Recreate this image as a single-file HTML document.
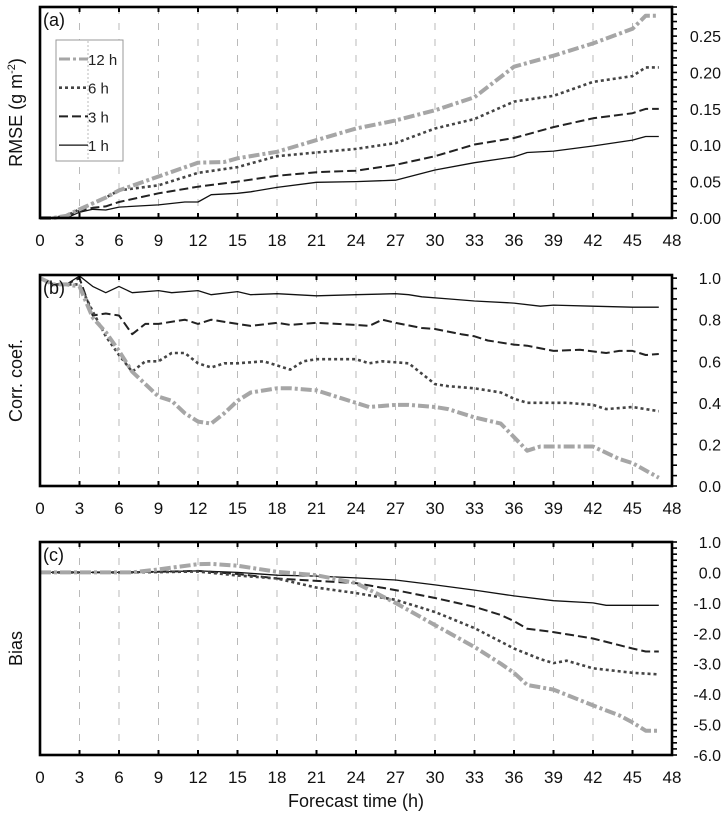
<!DOCTYPE html>
<html><head><meta charset="utf-8"><style>
html,body{margin:0;padding:0;background:#fff;}
svg{display:block;font-family:"Liberation Sans",Arial,sans-serif;}
</style></head><body>
<svg id="chart" width="728" height="816" viewBox="0 0 728 816" xmlns="http://www.w3.org/2000/svg"></svg>
<script>
// ---- data ----
const seriesNames = ["1 h","3 h","6 h","12 h"];
const xTicks = [0,3,6,9,12,15,18,21,24,27,30,33,36,39,42,45,48];

const rmseH1  = [0,1,2,3,4,5,6,9,11,12,13,15,16,18,21,24,27,30,33,36,37,39,42,45,46,47];
const rmse1   = [0,0,0,0.008,0.012,0.011,0.015,0.018,0.022,0.022,0.032,0.034,0.036,0.042,0.049,0.05,0.052,0.066,0.076,0.084,0.09,0.092,0.099,0.107,0.112,0.112];
const rmseH3  = [0,1,2,3,4,5,6,9,12,15,18,21,24,27,30,33,36,39,42,45,46,47];
const rmse3   = [0,0,0.002,0.01,0.014,0.016,0.022,0.034,0.043,0.05,0.058,0.063,0.065,0.073,0.085,0.101,0.11,0.125,0.137,0.144,0.15,0.15];
const rmseH6  = [0,1,2,3,4,5,6,9,12,15,18,21,24,27,30,33,36,39,42,45,46,47];
const rmse6   = [0,0,0.003,0.012,0.02,0.028,0.038,0.045,0.062,0.07,0.085,0.09,0.095,0.103,0.123,0.136,0.16,0.168,0.187,0.195,0.207,0.207];
const rmseH12 = [0,1,2,3,4,5,6,9,12,14,15,18,21,24,27,30,33,36,39,42,45,46,47];
const rmse12  = [0,0,0.003,0.012,0.02,0.028,0.038,0.057,0.076,0.077,0.082,0.091,0.107,0.123,0.134,0.148,0.166,0.208,0.223,0.24,0.26,0.278,0.278];
const rmseTicks = ["0.00","0.05","0.10","0.15","0.20","0.25"];

const corrH1  = [0,1,2,3,4,5,6,7,9,10,12,13,15,16,18,21,24,27,28,29,31,33,36,38,39,42,45,47];
const corr1   = [1.0,0.97,0.97,1.01,0.96,0.93,0.96,0.93,0.94,0.93,0.94,0.92,0.935,0.92,0.925,0.915,0.92,0.925,0.92,0.91,0.9,0.89,0.88,0.865,0.87,0.865,0.86,0.86];
const corrH3  = [0,1,2,3,4,5,6,7,8,9,11,12,13,15,16,18,19,21,24,25,26,27,29,30,32,33,34,36,37,39,41,43,44,45,46,47];
const corr3   = [1.0,0.97,0.97,1.0,0.82,0.83,0.82,0.73,0.78,0.78,0.8,0.78,0.8,0.78,0.77,0.785,0.775,0.785,0.775,0.77,0.8,0.785,0.76,0.755,0.73,0.72,0.7,0.68,0.675,0.65,0.655,0.64,0.65,0.65,0.63,0.635];
const corrH6  = [0,1,2,3,4,5,6,7,8,9,10,11,12,13,14,15,17,19,20,21,24,25,26,28,30,31,33,35,36,37,40,42,43,45,47];
const corr6   = [1.0,0.97,0.97,0.97,0.84,0.72,0.63,0.55,0.6,0.6,0.64,0.64,0.59,0.57,0.59,0.59,0.6,0.56,0.6,0.61,0.61,0.59,0.6,0.59,0.49,0.48,0.47,0.45,0.42,0.4,0.4,0.39,0.37,0.38,0.36];
const corrH12 = [0,1,2,3,4,5,6,7,9,10,11,12,13,14,15,16,18,19,21,23,25,27,28,30,31,33,35,37,38,42,44,45,47];
const corr12  = [1.0,0.97,0.97,0.96,0.81,0.74,0.65,0.55,0.43,0.41,0.35,0.31,0.3,0.35,0.41,0.45,0.47,0.47,0.46,0.42,0.38,0.39,0.39,0.38,0.37,0.33,0.3,0.17,0.19,0.19,0.13,0.11,0.04];
const corrTicks = ["0.0","0.2","0.4","0.6","0.8","1.0"];

const biasH1  = [0,3,6,9,12,15,18,21,24,27,30,33,36,39,42,43,45,47];
const bias1   = [0,0,0,0.02,0.05,0,-0.09,-0.12,-0.18,-0.25,-0.41,-0.58,-0.77,-0.93,-1.0,-1.08,-1.08,-1.08];
const biasH3  = [0,3,6,9,12,15,18,21,24,27,30,33,35,36,37,39,42,45,46,47];
const bias3   = [0,0,0,0.02,0.05,-0.05,-0.2,-0.28,-0.35,-0.58,-0.84,-1.13,-1.4,-1.6,-1.85,-1.96,-2.17,-2.5,-2.6,-2.6];
const biasH6  = [0,3,6,9,12,15,18,21,24,27,30,33,36,38,39,40,42,45,47];
const bias6   = [0,0,0,0.01,0.03,-0.1,-0.2,-0.5,-0.68,-0.9,-1.3,-1.83,-2.5,-2.85,-2.98,-2.9,-3.15,-3.3,-3.35];
const biasH12 = [0,3,6,7,9,12,13,15,18,21,24,27,30,33,35,36,37,39,42,44,45,46,47];
const bias12  = [0,0,0,0,0.1,0.27,0.28,0.22,0.02,-0.09,-0.35,-1.0,-1.73,-2.45,-3.0,-3.3,-3.7,-3.85,-4.37,-4.7,-4.93,-5.2,-5.2];
const biasTicks = ["-6.0","-5.0","-4.0","-3.0","-2.0","-1.0","0.0","1.0"];

// ---- drawing ----
const NS = "http://www.w3.org/2000/svg";
const svg = document.getElementById("chart");
function mk(tag, attrs, parent){ const e=document.createElementNS(NS,tag); for(const k in attrs) e.setAttribute(k,attrs[k]); (parent||svg).appendChild(e); return e; }

const X0=40, X1=672;
function xs(h){ return X0 + (h/48)*(X1-X0); }

const styles = [
  {stroke:"#111", w:1.3, dash:""},
  {stroke:"#222", w:2, dash:"9,4"},
  {stroke:"#444", w:2.6, dash:"3,3"},
  {stroke:"#a6a6a6", w:4, dash:"11,3,3,3"}
];

const panels = [
  {key:"rmse", top:7, bot:218, vmin:0, vmax:0.29, ticks:rmseTicks, minor:0.01, letter:"(a)", ylab:"RMSE",
   hs:[rmseH1,rmseH3,rmseH6,rmseH12], vs:[rmse1,rmse3,rmse6,rmse12]},
  {key:"corr", top:275, bot:486, vmin:0, vmax:1.015, ticks:corrTicks, minor:0.05, letter:"(b)", ylab:"Corr. coef.",
   hs:[corrH1,corrH3,corrH6,corrH12], vs:[corr1,corr3,corr6,corr12]},
  {key:"bias", top:542, bot:755, vmin:-6, vmax:1, ticks:biasTicks, minor:0.2, letter:"(c)", ylab:"Bias",
   hs:[biasH1,biasH3,biasH6,biasH12], vs:[bias1,bias3,bias6,bias12]}
];

panels.forEach(p=>{
  const g = mk("g",{});
  
  
  const ys = v => p.bot - (v-p.vmin)/(p.vmax-p.vmin)*(p.bot-p.top);
  xTicks.forEach(t=>{
    if(t===0||t===48) return;
    const l = mk("line",{x1:xs(t),x2:xs(t),y1:p.top,y2:p.bot,stroke:"#aaa","stroke-width":0.8,"stroke-dasharray":"7,9"},g);
    
    
  });
  p.hs.forEach((hArr,i)=>{
    const d = hArr.map((h,j)=>(j?"L":"M")+xs(h).toFixed(1)+","+ys(p.vs[i][j]).toFixed(1)).join(" ");
    const s = styles[i];
    const path = mk("path",{d:d,fill:"none",stroke:s.stroke,"stroke-width":s.w,"stroke-dasharray":s.dash,"stroke-linejoin":"round"},g);
    
    
  });
  const fr = mk("rect",{x:X0,y:p.top,width:X1-X0,height:p.bot-p.top,fill:"none",stroke:"#000","stroke-width":2.6},g);
  
  
  xTicks.forEach(t=>{
    mk("line",{x1:xs(t),x2:xs(t),y1:p.top,y2:p.top+5,stroke:"#000","stroke-width":2},g);
    mk("line",{x1:xs(t),x2:xs(t),y1:p.bot,y2:p.bot-5,stroke:"#000","stroke-width":2},g);
    const tx = mk("text",{x:xs(t),y:p.bot+28,"text-anchor":"middle","font-size":17,fill:"#111"},g);
    tx.textContent = t;
    
    
  });
  const n = Math.round((p.vmax-p.vmin)/p.minor);
  for(let k=0;k<=n;k++){
    const v = p.vmin + k*p.minor;
    if(v>p.vmax) break;
    mk("line",{x1:X1,x2:X1+5,y1:ys(v),y2:ys(v),stroke:"#000","stroke-width":1.6},g);
  }
  p.ticks.forEach(lbl=>{
    const v = parseFloat(lbl);
    const tx = mk("text",{x:721,y:ys(v)+6,"text-anchor":"end","font-size":16,fill:"#111"},g);
    tx.textContent = lbl;
    
    
  });
  const lt = mk("text",{x:43,y:p.top+19,"font-size":18,fill:"#111"},g);
  lt.textContent = p.letter;
  
  
  const cy = (p.top+p.bot)/2;
  const yl = mk("text",{x:0,y:0,"text-anchor":"middle","font-size":18,fill:"#111",transform:"translate(22,"+cy+") rotate(-90)"},g);
  
  
  if(p.key==="rmse"){
    yl.innerHTML = 'RMSE (g m<tspan dy="-7" font-size="11">-2</tspan><tspan dy="7">)</tspan>';
  } else yl.textContent = p.ylab;
});

const lg = mk("g",{});


mk("rect",{x:56,y:40,width:67,height:121,fill:"#fff",stroke:"#999","stroke-width":1},lg);
mk("line",{x1:88,x2:88,y1:41,y2:160,stroke:"#bbb","stroke-width":1,"stroke-dasharray":"2,2"},lg);
[3,2,1,0].forEach((si,k)=>{
  const y = 59 + k*28.7;
  const s = styles[si];
  const e = mk("g",{},lg);
  
  
  mk("line",{x1:59,x2:88,y1:y,y2:y,stroke:s.stroke,"stroke-width":Math.min(s.w,3),"stroke-dasharray":s.dash},e);
  const t = mk("text",{x:88,y:y+6,"font-size":15,fill:"#222"},e);
  t.textContent = seriesNames[si];
});

const xt = mk("text",{x:356,y:807,"text-anchor":"middle","font-size":18,fill:"#111"});
xt.textContent = "Forecast time (h)";


</script>
</body></html>
